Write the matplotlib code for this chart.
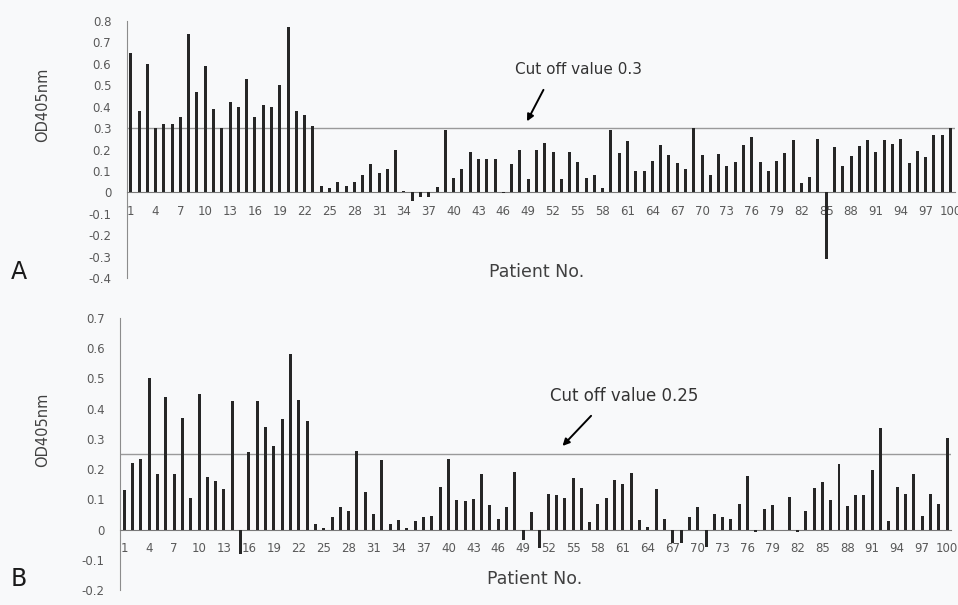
import numpy as np
import matplotlib
matplotlib.use("Agg")
import matplotlib.pyplot as plt
from matplotlib.ticker import FuncFormatter

# ------------- DATA -----------------
patients = list(range(1, 101))

od_a = [0.65, 0.38, 0.60, 0.30, 0.32, 0.32, 0.35, 0.74, 0.47, 0.59,
        0.39, 0.30, 0.42, 0.40, 0.53, 0.35, 0.41, 0.40, 0.50, 0.77,
        0.38, 0.36, 0.31, 0.03, 0.02, 0.05, 0.03, 0.05, 0.08, 0.13,
        0.09, 0.11, 0.20, 0.005, -0.04, -0.02, -0.02, 0.025, 0.29, 0.065,
        0.11, 0.19, 0.155, 0.155, 0.155, -0.005, 0.13, 0.20, 0.06, 0.20,
        0.23, 0.19, 0.06, 0.19, 0.14, 0.065, 0.08, 0.02, 0.29, 0.185,
        0.24, 0.10, 0.10, 0.145, 0.22, 0.175, 0.135, 0.11, 0.30, 0.175,
        0.08, 0.18, 0.125, 0.14, 0.22, 0.26, 0.14, 0.10, 0.145, 0.185,
        0.245, 0.045, 0.07, 0.25, -0.31, 0.21, 0.125, 0.17, 0.215, 0.245,
        0.19, 0.245, 0.225, 0.25, 0.135, 0.195, 0.165, 0.27, 0.27, 0.30]

od_b = [0.13, 0.22, 0.235, 0.50, 0.185, 0.44, 0.185, 0.37, 0.105, 0.45,
        0.175, 0.16, 0.135, 0.425, -0.08, 0.255, 0.425, 0.34, 0.275, 0.365,
        0.58, 0.43, 0.36, 0.02, 0.006, 0.042, 0.073, 0.063, 0.26, 0.125,
        0.053, 0.23, 0.017, 0.03, 0.006, 0.028, 0.041, 0.046, 0.14, 0.235,
        0.098, 0.096, 0.10, 0.183, 0.08, 0.034, 0.073, 0.19, -0.035, 0.057,
        -0.06, 0.117, 0.114, 0.106, 0.172, 0.136, 0.026, 0.084, 0.106, 0.165,
        0.15, 0.187, 0.032, 0.008, 0.135, 0.036, -0.046, -0.046, 0.04, 0.073,
        -0.057, 0.053, 0.042, 0.036, 0.083, 0.177, -0.008, 0.068, 0.081, 0.0,
        0.108, -0.008, 0.063, 0.139, 0.156, 0.098, 0.218, 0.077, 0.113, 0.113,
        0.197, 0.336, 0.029, 0.141, 0.119, 0.183, 0.045, 0.119, 0.086, 0.303]

cutoff_a = 0.3
cutoff_b = 0.25
# -------------------------------------

BG = "#f8f9fa"
BAR = "#262626"
TXT = "#595959"

fig = plt.figure(figsize=(9.58, 6.05), dpi=100, facecolor=BG)
W, H = 958, 605


def px_axes(left, right, top, bottom):
    return fig.add_axes([left / W, 1 - bottom / H, (right - left) / W, (bottom - top) / H])


def yfmt(v, _):
    return "0" if abs(v) < 1e-9 else f"{v:.1f}"


def style(ax, values, ylim, yticks, cutoff):
    ax.set_facecolor(BG)
    ax.bar(patients, values, width=0.36, color=BAR, zorder=3)
    ax.axhline(cutoff, color="#9a9a9a", lw=1.0, zorder=2)
    ax.set_xlim(0.5, 100.5)
    ax.set_ylim(*ylim)
    ax.set_yticks(yticks)
    ax.yaxis.set_major_formatter(FuncFormatter(yfmt))
    ax.set_xticks(patients[::3])
    ax.set_xticklabels([str(p) for p in patients[::3]])
    for s in ["top", "right"]:
        ax.spines[s].set_visible(False)
    ax.spines["left"].set_color("#8c8c8c")
    ax.spines["bottom"].set_position(("data", 0))
    ax.spines["bottom"].set_color("#7a7a7a")
    ax.tick_params(axis="y", length=0, pad=11, labelsize=8.5, labelcolor=TXT)
    ax.tick_params(axis="x", length=0, pad=9, labelsize=8.5, labelcolor=TXT)


ax_a = px_axes(126.6, 954.6, 21, 278)
style(ax_a, od_a, (-0.4, 0.8), np.round(np.arange(-0.4, 0.81, 0.1), 1), cutoff_a)
ax_a.annotate("", xy=(48.7, 0.32), xytext=(51.0, 0.49),
              arrowprops=dict(arrowstyle="-|>", color="black", lw=1.4, mutation_scale=10))
ax_a.text(47.4, 0.572, "Cut off value 0.3", fontsize=11, color="#333333", va="center")

ax_b = px_axes(120.1, 951.2, 318, 590)
style(ax_b, od_b, (-0.2, 0.7), np.round(np.arange(-0.2, 0.71, 0.1), 1), cutoff_b)
ax_b.annotate("", xy=(53.5, 0.27), xytext=(57.4, 0.383),
              arrowprops=dict(arrowstyle="-|>", color="black", lw=1.4, mutation_scale=10))
ax_b.text(52.2, 0.442, "Cut off value 0.25", fontsize=12, color="#333333", va="center")

# axis titles and panel letters
fig.text(43 / W, 1 - 105 / H, "OD405nm", rotation=90, ha="center", va="center",
         fontsize=10.5, color="#404040")
fig.text(43 / W, 1 - 430 / H, "OD405nm", rotation=90, ha="center", va="center",
         fontsize=10.5, color="#404040")
fig.text(537 / W, 1 - 272 / H, "Patient No.", ha="center", va="center",
         fontsize=12.5, color="#404040")
fig.text(535 / W, 1 - 579 / H, "Patient No.", ha="center", va="center",
         fontsize=12.5, color="#404040")
fig.text(19 / W, 1 - 272 / H, "A", ha="center", va="center", fontsize=17, color="#1a1a1a")
fig.text(19 / W, 1 - 579 / H, "B", ha="center", va="center", fontsize=17, color="#1a1a1a")

fig.savefig("out.png", dpi=100, facecolor=BG)
plt.close(fig)
print("saved out.png")
